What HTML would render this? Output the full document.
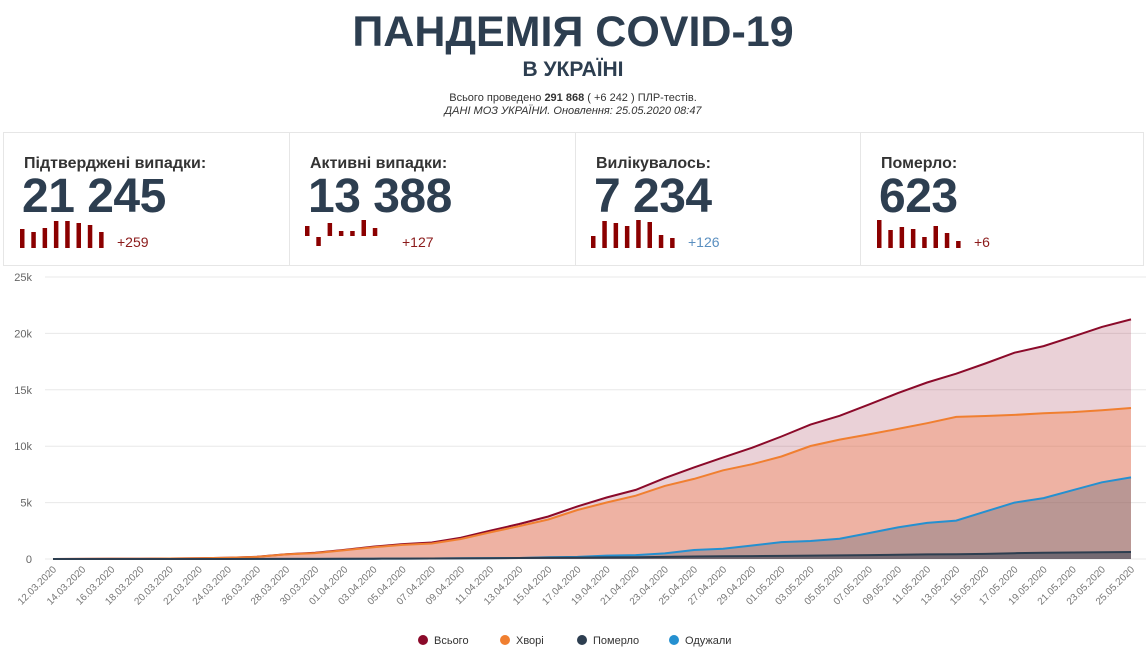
<!DOCTYPE html>
<html><head><meta charset="utf-8"><style>
body{margin:0;width:1146px;height:655px;background:#fff;font-family:"Liberation Sans",sans-serif;color:#2d3e50;position:relative;overflow:hidden}
.t{position:absolute;left:0;width:1146px;text-align:center}
.card{position:absolute;top:132px;height:134px;border:1px solid #e6e6e6;box-sizing:border-box}
.lab{position:absolute;left:20px;top:22px;font-size:16px;font-weight:bold;color:#333}
.num{position:absolute;left:18px;top:36px;font-size:48px;font-weight:bold;color:#2d3e50;letter-spacing:-0.5px}
</style></head><body>
<div class="t" style="top:8px;font-size:43px;font-weight:bold">ПАНДЕМІЯ COVID-19</div>
<div class="t" style="top:58px;font-size:21px;font-weight:bold">В УКРАЇНІ</div>
<div class="t" style="top:92px;font-size:11px;color:#333">Всього проведено <b>291 868</b> ( +6 242 ) ПЛР-тестів.</div>
<div class="t" style="top:105px;font-size:11px;color:#333;font-style:italic">ДАНІ МОЗ УКРАЇНИ. Оновлення: 25.05.2020 08:47</div>
<div class="card" style="left:3px;width:287px"><div class="lab">Підтверджені випадки:</div><div class="num">21 245</div></div>
<div class="card" style="left:289px;width:287px"><div class="lab">Активні випадки:</div><div class="num">13 388</div></div>
<div class="card" style="left:575px;width:286px"><div class="lab">Вилікувалось:</div><div class="num">7 234</div></div>
<div class="card" style="left:860px;width:284px"><div class="lab">Померло:</div><div class="num">623</div></div>
<svg width="1146" height="655" style="position:absolute;left:0;top:0" id="s" font-family="Liberation Sans, sans-serif"></svg>
<script>
var s=document.getElementById('s'),h='';
function bars(x0,hs){hs.forEach(function(v,i){var x=x0+i*11.3;h+='<rect x="'+x+'" y="'+(v[0])+'" width="4.5" height="'+(v[1]-v[0])+'" fill="#8b0000"/>';});}
bars(20,[[229,248],[232,248],[228,248],[221,248],[221,248],[223,248],[225,248],[232,248]]);
h+='<text x="117" y="247" font-size="14" fill="#8b1a1a">+259</text>';
bars(305,[[226,236],[237,246],[223,236],[231,236],[231,236],[220,236],[228,236]]);
h+='<text x="402" y="247" font-size="14" fill="#8b1a1a">+127</text>';
bars(591,[[236,248],[221,248],[223,248],[226,248],[220,248],[222,248],[235,248],[238,248]]);
h+='<text x="688" y="247" font-size="14" fill="#5a8fc0">+126</text>';
bars(877,[[220,248],[230,248],[227,248],[229,248],[237,248],[226,248],[233,248],[241,248]]);
h+='<text x="974" y="247" font-size="14" fill="#8b1a1a">+6</text>';
var X0=53,X1=1131,Y0=559,K=56.4/5000;
[0,5,10,15,20,25].forEach(function(k){var y=Y0-k*1000*K;h+='<line x1="45" x2="1146" y1="'+y+'" y2="'+y+'" stroke="#e8e8e8"/><text x="32" y="'+(y+4)+'" font-size="11" fill="#666" text-anchor="end">'+(k?k+'k':'0')+'</text>';});
var T=[3,7,16,29,47,73,113,196,418,548,804,1096,1319,1462,1892,2511,3102,3764,4662,5449,6125,7170,8125,9009,9866,10861,11913,12697,13691,14710,15648,16425,17330,18291,18876,19706,20580,21245];
var R=[0,0,1,1,1,1,1,2,5,8,13,25,35,40,60,80,90,150,190,300,350,500,800,900,1200,1500,1600,1800,2300,2800,3200,3400,4200,5000,5400,6100,6800,7234];
var D=[0,0,1,2,3,3,4,5,9,13,20,27,37,45,57,73,93,108,125,141,161,187,220,248,261,272,298,316,344,376,408,425,456,514,548,579,600,623];
var n=37;
function pts(a){var p=[];for(var i=0;i<=n;i++){p.push([X0+(X1-X0)*i/n,Y0-a[i]*K]);}return p;}
var A=T.map(function(v,i){return v-R[i]-D[i];});
function area(a,fill,stroke){var p=pts(a);var d='M'+p.map(function(q){return q[0].toFixed(1)+','+q[1].toFixed(1)}).join('L');h+='<path d="'+d+'L'+X1+','+Y0+'L'+X0+','+Y0+'Z" fill="'+fill+'"/><path d="'+d+'" fill="none" stroke="'+stroke+'" stroke-width="2"/>';}
area(T,'rgba(139,0,35,0.18)','#8b0a2a');
area(A,'rgba(245,130,80,0.38)','#f07f30');
area(R,'rgba(90,100,120,0.35)','#2590d0');
area(D,'rgba(45,62,80,0.5)','#2d3e50');
for(var i=0;i<=n;i++){var dt=new Date(2020,2,12+2*i);var lbl=('0'+dt.getDate()).slice(-2)+'.'+('0'+(dt.getMonth()+1)).slice(-2)+'.2020';var x=X0+(X1-X0)*i/n+4;h+='<text transform="translate('+x+',570) rotate(-45)" font-size="10" fill="#777" text-anchor="end">'+lbl+'</text>';}
[['Всього','#8b0a2a',423],['Хворі','#f07f30',505],['Померло','#2d3e50',582],['Одужали','#2590d0',674]].forEach(function(l){h+='<circle cx="'+l[2]+'" cy="640" r="5" fill="'+l[1]+'"/><text x="'+(l[2]+11)+'" y="644" font-size="11" fill="#333">'+l[0]+'</text>';});
s.innerHTML=h;
</script>
</body></html>
